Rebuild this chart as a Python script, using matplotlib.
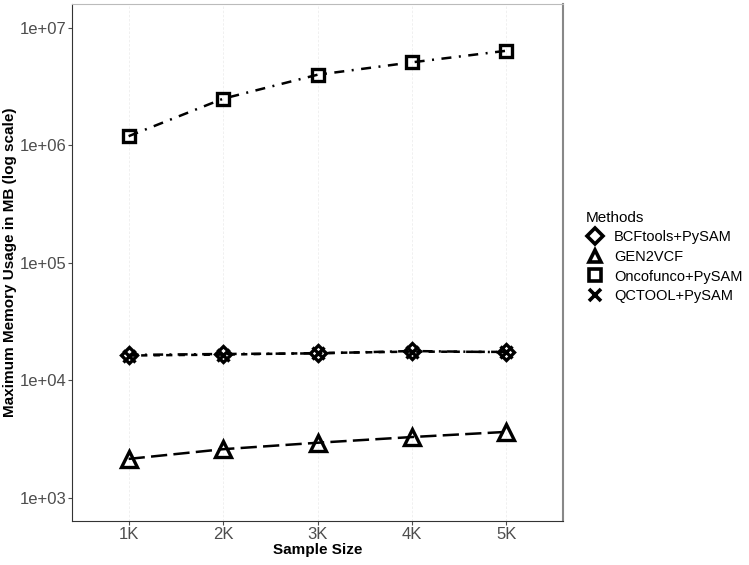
import matplotlib as mpl
mpl.use("Agg")
import matplotlib.pyplot as plt
from matplotlib.lines import Line2D

plt.rcParams['font.family'] = ['Liberation Sans', 'DejaVu Sans']

# Dados
tamanhos = [1, 2, 3, 4, 5]
rotulos_x = ["1K", "2K", "3K", "4K", "5K"]
metodos = ["BCFtools+PySAM", "GEN2VCF", "Oncofunco+PySAM", "QCTOOL+PySAM"]

bcftools = [16500, 16800, 17000, 17800, 17400]
gen2vcf = [2150, 2600, 2950, 3300, 3650]
oncofunco = [1.2e6, 2.5e6, 4.0e6, 5.1e6, 6.4e6]
qctool = [16300, 16600, 17100, 17600, 17500]

valores = [bcftools, gen2vcf, oncofunco, qctool]
marcadores = ["D", "^", "s", "x"]
tamanhos_marc = [8, 11, 9, 9]
tracos = [(4, 2.5, 0.8, 2.5), (6.5, 2.5), (4, 3, 0.8, 3), (2.5, 2.5)]

fig = plt.figure(figsize=(7.49, 5.65), dpi=100)
ax = fig.add_axes([0.0961, 0.0779, 0.6556, 0.915])

for i in range(len(metodos)):
    ax.plot(tamanhos, valores[i], color="black", lw=1.8, dashes=tracos[i],
            marker=marcadores[i], markersize=tamanhos_marc[i], markerfacecolor="none",
            markeredgecolor="black", markeredgewidth=2.4, zorder=3)

ax.set_yscale("log")
ax.set_ylim(10 ** 2.804, 10 ** 7.204)
ax.set_xlim(0.4, 5.6)
ax.set_yticks([1e3, 1e4, 1e5, 1e6, 1e7])
ax.set_yticklabels(["1e+03", "1e+04", "1e+05", "1e+06", "1e+07"])
ax.yaxis.set_minor_locator(mpl.ticker.NullLocator())
ax.set_xticks(tamanhos)
ax.set_xticklabels(rotulos_x)
ax.tick_params(colors="#4d4d4d", labelsize=12, length=3, width=0.8, pad=1)

ax.grid(axis="x", color="#eeeeee", lw=0.6, linestyle=(0, (3, 2)), zorder=0)

ax.spines["left"].set_color("#333333")
ax.spines["bottom"].set_color("#333333")
ax.spines["top"].set_color("#bbbbbb")
ax.spines["right"].set_color("#888888")
ax.spines["right"].set_linewidth(1.5)

ax.set_xlabel("Sample Size", fontsize=11, fontweight="bold", labelpad=1)
ax.set_ylabel("Maximum Memory Usage in MB (log scale)", fontsize=11, fontweight="bold", labelpad=2)

# Legenda so com marcadores
alcas = [Line2D([], [], linestyle="none", marker=marcadores[i], markersize=8,
                markerfacecolor="none", markeredgecolor="black", markeredgewidth=2.6)
         for i in range(len(metodos))]
leg = fig.legend(alcas, metodos, title="Methods", loc="upper left",
                 bbox_to_anchor=(0.765, 0.65), frameon=False, fontsize=10.5,
                 title_fontsize=11, handlelength=1.2, handletextpad=0.7,
                 labelspacing=0.38, alignment="left")

fig.savefig("out.png", dpi=100)
